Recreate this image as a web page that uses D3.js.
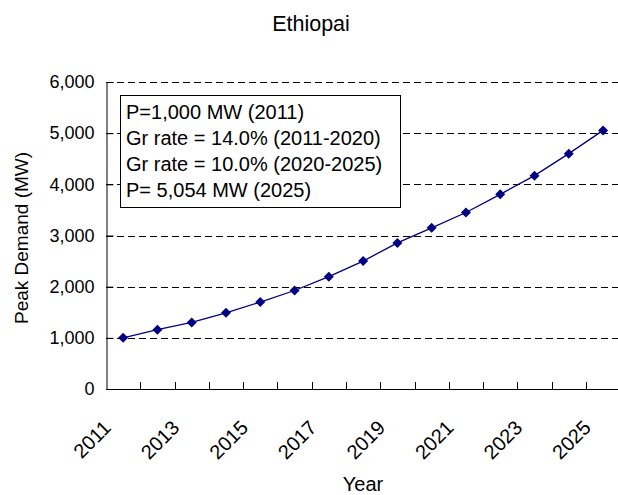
<!DOCTYPE html>
<html>
<head>
<meta charset="utf-8">
<script src="https://cdn.jsdelivr.net/npm/d3@7"></script>
<style>
  html, body { margin: 0; padding: 0; background: #fff; }
  svg { display: block; font-family: "Liberation Sans", Arial, sans-serif; }
</style>
</head>
<body>
<svg id="chart" width="618" height="495"></svg>
<script>
const years = [2011, 2012, 2013, 2014, 2015, 2016, 2017, 2018, 2019, 2020, 2021, 2022, 2023, 2024, 2025];
const peakDemand = [1000, 1160, 1300, 1490, 1700, 1925, 2195, 2500, 2855, 3150, 3450, 3805, 4170, 4600, 5054];
const yTicks = [0, 1000, 2000, 3000, 4000, 5000, 6000];
const xLabelYears = [2011, 2013, 2015, 2017, 2019, 2021, 2023, 2025];
const legendLines = [
  "P=1,000 MW (2011)",
  "Gr rate = 14.0% (2011-2020)",
  "Gr rate = 10.0% (2020-2025)",
  "P= 5,054 MW (2025)"
];
const titleText = "Ethiopai";
const yTitle = "Peak Demand (MW)";
const xTitle = "Year";

const svg = d3.select("#chart");
const plotLeft = 106, plotTop = 82, plotBottom = 389, step = 34.28;
const plotRight = plotLeft + step * years.length;

const x = d3.scaleBand().domain(years).range([plotLeft, plotRight]).paddingInner(0).paddingOuter(0);
const y = d3.scaleLinear().domain([0, 6000]).range([plotBottom, plotTop]);

// gridlines
svg.append("g").selectAll("line").data(yTicks.filter(d => d > 0)).join("line")
  .attr("x1", plotLeft).attr("x2", 618)
  .attr("y1", d => Math.round(y(d)) + 0.5).attr("y2", d => Math.round(y(d)) + 0.5)
  .attr("stroke", "#000").attr("stroke-width", 1).attr("stroke-dasharray", "7,4");

// y axis
const yAxis = d3.axisLeft(y).tickValues(yTicks).tickSize(-7).tickPadding(12)
  .tickFormat(d3.format(","));
const gy = svg.append("g").attr("transform", `translate(${plotLeft + 0.5},0)`).call(yAxis);
gy.select(".domain").attr("stroke", "#000");
gy.selectAll(".tick line").attr("stroke", "#000");
gy.selectAll(".tick text").attr("font-size", 18).attr("fill", "#000")
  .attr("font-family", "'Liberation Sans', Arial, sans-serif");

// x axis (ticks at category boundaries)
svg.append("line").attr("x1", plotLeft).attr("x2", 618)
  .attr("y1", plotBottom + 0.5).attr("y2", plotBottom + 0.5).attr("stroke", "#000");
svg.append("g").selectAll("line").data(years.slice(1)).join("line")
  .attr("x1", d => Math.round(x(d)) + 0.5).attr("x2", d => Math.round(x(d)) + 0.5)
  .attr("y1", plotBottom).attr("y2", plotBottom - 7).attr("stroke", "#000");

// x tick labels
svg.append("g").selectAll("text").data(xLabelYears).join("text")
  .attr("transform", d => `translate(${x(d) + x.bandwidth() / 2 - 11},429) rotate(-45)`)
  .attr("text-anchor", "end").attr("font-size", 20).attr("fill", "#000")
  .text(d => d);

// line + markers
const line = d3.line().x((d, i) => x(years[i]) + x.bandwidth() / 2).y(d => y(d));
svg.append("path").datum(peakDemand).attr("d", line)
  .attr("fill", "none").attr("stroke", "#000080").attr("stroke-width", 1.3);
svg.append("g").selectAll("path").data(peakDemand).join("path")
  .attr("transform", (d, i) => `translate(${x(years[i]) + x.bandwidth() / 2},${y(d)})`)
  .attr("d", "M0,-5L5,0L0,5L-5,0Z").attr("fill", "#000080");

// legend box
svg.append("rect").attr("x", 120.5).attr("y", 95.5).attr("width", 280).attr("height", 112)
  .attr("fill", "#fff").attr("stroke", "#000").attr("stroke-width", 1);
svg.append("g").selectAll("text").data(legendLines).join("text")
  .attr("x", 126).attr("y", (d, i) => 119 + i * 26)
  .attr("font-size", 20).attr("fill", "#000").text(d => d);

// titles
svg.append("text").attr("x", 311).attr("y", 31).attr("text-anchor", "middle")
  .attr("font-size", 21.5).attr("fill", "#000").text(titleText);
svg.append("text").attr("transform", "translate(28,238) rotate(-90)")
  .attr("text-anchor", "middle").attr("font-size", 19).attr("fill", "#000").text(yTitle);
svg.append("text").attr("x", 363).attr("y", 491).attr("text-anchor", "middle")
  .attr("font-size", 20).attr("fill", "#000").text(xTitle);
</script>
</body>
</html>
